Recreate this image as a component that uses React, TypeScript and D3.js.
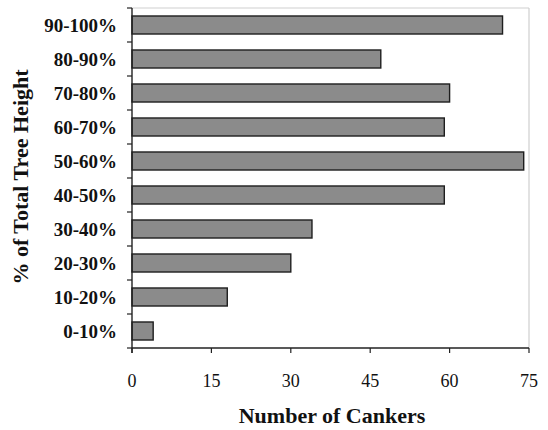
import React from "react";
import * as d3 from "d3";

const categories = ["90-100%", "80-90%", "70-80%", "60-70%", "50-60%", "40-50%", "30-40%", "20-30%", "10-20%", "0-10%"];
const cankers = [70, 47, 60, 59, 74, 59, 34, 30, 18, 4];
const xTicks = [0, 15, 30, 45, 60, 75];
const xTitle = "Number of Cankers";
const yTitle = "% of Total Tree Height";

const W = 548, H = 430;
const left = 132, right = 529, top = 8, bottom = 348;

export default function App() {
  const x = d3.scaleLinear().domain([0, 75]).range([left, right]);
  const y = d3.scaleBand<string>().domain(categories).range([top, bottom]).paddingInner(0.47).paddingOuter(0.235);
  const bandEdges = d3.range(categories.length + 1).map((i) => top + (i * (bottom - top)) / categories.length);
  const font = "'Liberation Serif', 'Times New Roman', serif";
  return (
    <svg width={W} height={H} style={{ position: "absolute", left: 0, top: 0, background: "#fff" }} fontFamily={font}>
      {/* frame */}
      <line x1={left} x2={right} y1={top} y2={top} stroke="#cfcfcf" strokeWidth={1.2} />
      <line x1={right} x2={right} y1={top} y2={bottom} stroke="#cfcfcf" strokeWidth={1.2} />
      {/* bars */}
      {categories.map((c, i) => (
        <rect key={c} x={x(0)} y={y(c)!} width={x(cankers[i]) - x(0)} height={y.bandwidth()}
          fill="#8b8b8b" stroke="#1e1e1e" strokeWidth={1.4} />
      ))}
      {/* y axis */}
      <line x1={left} x2={left} y1={top} y2={bottom + 5} stroke="#222" strokeWidth={1.4} />
      {bandEdges.map((b, i) => (
        <line key={i} x1={left - 5} x2={left} y1={b} y2={b} stroke="#222" strokeWidth={1.2} />
      ))}
      {categories.map((c) => (
        <text key={c} x={117} y={y(c)! + y.bandwidth() / 2 + 6.5} textAnchor="end" fontSize={19} fontWeight="bold" fill="#111">{c}</text>
      ))}
      {/* x axis */}
      <line x1={left} x2={right} y1={bottom} y2={bottom} stroke="#222" strokeWidth={1.4} />
      {xTicks.map((t) => (
        <g key={t}>
          <line x1={x(t)} x2={x(t)} y1={bottom} y2={bottom + 5} stroke="#222" strokeWidth={1.2} />
          <text x={x(t)} y={387} textAnchor="middle" fontSize={18} fill="#111">{t}</text>
        </g>
      ))}
      <text x={332} y={423} textAnchor="middle" fontSize={22} fontWeight="bold" fill="#111">{xTitle}</text>
      <text transform="translate(28,177) rotate(-90)" textAnchor="middle" fontSize={22} fontWeight="bold" fill="#111">{yTitle}</text>
    </svg>
  );
}
